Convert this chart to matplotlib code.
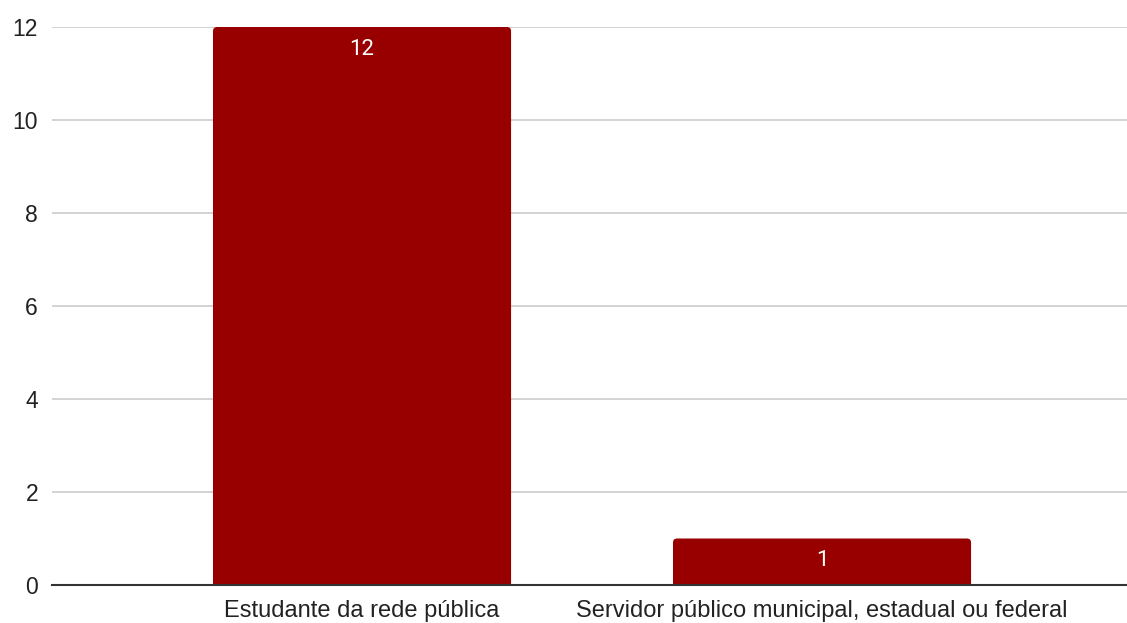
import matplotlib.pyplot as plt
from matplotlib.patches import FancyBboxPatch

categorias = ["Estudante da rede pública", "Servidor público municipal, estadual ou federal"]
valores = [12, 1]
yticks = [0, 2, 4, 6, 8, 10, 12]

plt.rcParams['font.family'] = ['Liberation Sans', 'DejaVu Sans']

fig = plt.figure(figsize=(11.27, 6.23), dpi=100)
ax = fig.add_axes([52/1127, 1-585/623, 1-52/1127, (585-27)/623])

x = list(range(len(categorias)))
bars = ax.bar(x, valores, width=0.648, color='#980000', zorder=3)

# rounded tops like the original chart
for b in bars:
    b.set_visible(False)
    fb = FancyBboxPatch((b.get_x(), -0.3), b.get_width(), b.get_height()+0.3,
                        boxstyle="round,pad=0,rounding_size=0.009",
                        mutation_aspect=9.9, facecolor='#980000',
                        edgecolor='none', zorder=3, clip_on=True)
    ax.add_patch(fb)

for b, v in zip(bars, valores):
    ax.text(b.get_x()+b.get_width()/2, v-0.25, str(v), ha='center', va='top',
            color='white', fontsize=16, family=['Roboto', 'DejaVu Sans'], zorder=4)

ax.set_xlim(-0.674, 1.663)
ax.set_ylim(0, 12)
ax.set_yticks(yticks)
ax.set_xticks(x)
ax.set_xticklabels(categorias, fontsize=17)
ax.tick_params(axis='both', length=0, colors='#222222')
ax.tick_params(axis='y', labelsize=16.5, pad=10)
ax.tick_params(axis='x', pad=11)
ax.grid(axis='y', color='#cccccc', linewidth=1.2, zorder=0)
for s in ['top', 'right', 'left']:
    ax.spines[s].set_visible(False)
ax.spines['bottom'].set_color('#333333')
ax.spines['bottom'].set_linewidth(1.5)
ax.spines['bottom'].set_zorder(5)

fig.savefig('out.png', dpi=100)
